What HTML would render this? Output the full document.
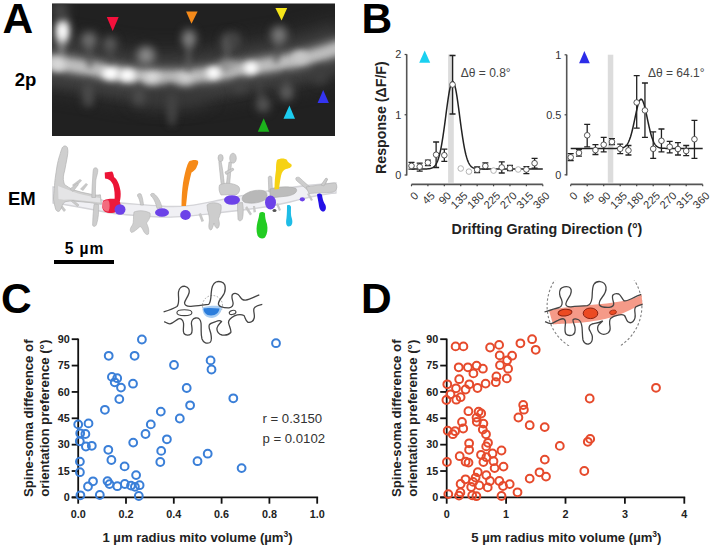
<!DOCTYPE html>
<html><head><meta charset="utf-8"><style>
html,body{margin:0;padding:0;background:#fff;}
svg{display:block;}
text{font-family:"Liberation Sans", sans-serif;}
</style></head><body>
<svg width="712" height="547" viewBox="0 0 712 547" font-family='"Liberation Sans", sans-serif'>
<rect width="712" height="547" fill="#fff"/>
<text x="2.6" y="32.9" font-size="42.5" font-weight="bold">A</text>
<text x="361.6" y="32.6" font-size="42.5" font-weight="bold">B</text>
<text x="1.0" y="312.8" font-size="42.5" font-weight="bold">C</text>
<text x="361.1" y="312.9" font-size="42.5" font-weight="bold">D</text>
<defs><clipPath id="c2p"><rect x="52" y="3.5" width="283" height="132.5"/></clipPath><clipPath id="cD"><rect x="530" y="280.5" width="130" height="65.5"/></clipPath><filter id="bl8" filterUnits="userSpaceOnUse" x="0" y="0" width="712" height="547" color-interpolation-filters="sRGB"><feGaussianBlur stdDeviation="8"/></filter><filter id="bl6" filterUnits="userSpaceOnUse" x="0" y="0" width="712" height="547" color-interpolation-filters="sRGB"><feGaussianBlur stdDeviation="5.5"/></filter><filter id="bl4" filterUnits="userSpaceOnUse" x="0" y="0" width="712" height="547" color-interpolation-filters="sRGB"><feGaussianBlur stdDeviation="4"/></filter><filter id="bl3" filterUnits="userSpaceOnUse" x="0" y="0" width="712" height="547" color-interpolation-filters="sRGB"><feGaussianBlur stdDeviation="3"/></filter><filter id="bl2" filterUnits="userSpaceOnUse" x="0" y="0" width="712" height="547" color-interpolation-filters="sRGB"><feGaussianBlur stdDeviation="2.2"/></filter><filter id="bl1" filterUnits="userSpaceOnUse" x="0" y="0" width="712" height="547" color-interpolation-filters="sRGB"><feGaussianBlur stdDeviation="0.6"/></filter></defs>
<rect x="52" y="3.5" width="283" height="132.5" fill="#212121"/>
<g clip-path="url(#c2p)">
<path d="M40,62 C70,63 95,70 125,75 C160,80 195,78 230,71 C260,66 290,62 310,57 C325,53 335,49 345,46" stroke="#303030" stroke-width="60" fill="none" filter="url(#bl8)"/>
<path d="M40,62 C70,63 95,70 125,75 C160,80 195,78 230,71 C260,66 290,62 310,57 C325,53 335,49 345,46" stroke="#4c4c4c" stroke-width="30" fill="none" filter="url(#bl8)"/>
<path d="M40,62 C70,63 95,70 125,75 C160,80 195,78 230,71 C260,66 290,62 310,57 C325,53 335,49 345,46" transform="translate(0,11)" stroke="#3e3e3e" stroke-width="18" fill="none" filter="url(#bl6)"/>
<path d="M40,62 C70,63 95,70 125,75 C160,80 195,78 230,71 C260,66 290,62 310,57 C325,53 335,49 345,46" stroke="#a8a8a8" stroke-width="16" fill="none" filter="url(#bl4)"/>
<path d="M40,62 C70,63 95,70 125,75 C160,80 195,78 230,71 C260,66 290,62 310,57 C325,53 335,49 345,46" stroke="#c4c4c4" stroke-width="7" fill="none" filter="url(#bl3)"/>
<path d="M62,35 L61,62" stroke="#8a8a8a" stroke-width="5" fill="none" filter="url(#bl3)"/>
<path d="M89,42 L90,68" stroke="#555555" stroke-width="4" fill="none" filter="url(#bl3)"/>
<path d="M110,46 L111,70" stroke="#4a4a4a" stroke-width="4" fill="none" filter="url(#bl3)"/>
<path d="M189,40 L188,74" stroke="#5e5e5e" stroke-width="4" fill="none" filter="url(#bl3)"/>
<path d="M228,44 L225,70" stroke="#606060" stroke-width="4" fill="none" filter="url(#bl3)"/>
<path d="M279,38 L276,63" stroke="#4e4e4e" stroke-width="4" fill="none" filter="url(#bl3)"/>
<path d="M89,80 L90,105" stroke="#444444" stroke-width="4" fill="none" filter="url(#bl3)"/>
<path d="M171,85 L172,125" stroke="#444444" stroke-width="4" fill="none" filter="url(#bl3)"/>
<path d="M258,78 L263,108" stroke="#444444" stroke-width="4" fill="none" filter="url(#bl3)"/>
<path d="M286,72 L287,96" stroke="#444444" stroke-width="4" fill="none" filter="url(#bl3)"/>
<path d="M140,82 L139,100" stroke="#444444" stroke-width="4" fill="none" filter="url(#bl3)"/>
<ellipse cx="62.5" cy="31" rx="7" ry="13" fill="#e0e0e0" filter="url(#bl4)"/>
<ellipse cx="62.5" cy="31" rx="4" ry="8" fill="#ffffff" filter="url(#bl3)"/>
<ellipse cx="60" cy="10" rx="8" ry="8" fill="#505050" filter="url(#bl6)"/>
<ellipse cx="89" cy="40" rx="8" ry="8" fill="#707070" filter="url(#bl4)"/>
<ellipse cx="110" cy="43.7" rx="7" ry="7" fill="#5e5e5e" filter="url(#bl4)"/>
<ellipse cx="146" cy="55.5" rx="9" ry="9" fill="#8a8a8a" filter="url(#bl4)"/>
<ellipse cx="189" cy="38.5" rx="7" ry="9" fill="#858585" filter="url(#bl4)"/>
<ellipse cx="228" cy="42" rx="7" ry="9" fill="#585858" filter="url(#bl4)"/>
<ellipse cx="279" cy="35" rx="8" ry="9" fill="#7a7a7a" filter="url(#bl4)"/>
<ellipse cx="58" cy="64" rx="8" ry="7" fill="#d8d8d8" filter="url(#bl3)"/>
<ellipse cx="110.5" cy="73.3" rx="8.5" ry="6.5" fill="#ffffff" filter="url(#bl3)"/>
<ellipse cx="127.4" cy="75.3" rx="8" ry="6" fill="#ffffff" filter="url(#bl3)"/>
<ellipse cx="152.5" cy="79.3" rx="8" ry="6" fill="#f0f0f0" filter="url(#bl4)"/>
<ellipse cx="185" cy="80.5" rx="8" ry="6" fill="#e8e8e8" filter="url(#bl4)"/>
<ellipse cx="228" cy="66" rx="9" ry="5" fill="#a0a0a0" filter="url(#bl4)"/>
<ellipse cx="170" cy="98" rx="40" ry="10" fill="#383838" filter="url(#bl8)"/>
<ellipse cx="213.5" cy="72.9" rx="7" ry="6" fill="#ffffff" filter="url(#bl3)"/>
<ellipse cx="251" cy="68" rx="7" ry="6" fill="#ffffff" filter="url(#bl3)"/>
<ellipse cx="300" cy="57" rx="8" ry="6" fill="#c8c8c8" filter="url(#bl3)"/>
<ellipse cx="87.5" cy="95" rx="5" ry="12" fill="#4e4e4e" filter="url(#bl4)"/>
<ellipse cx="139" cy="96.7" rx="6" ry="9" fill="#4e4e4e" filter="url(#bl4)"/>
<ellipse cx="172" cy="108" rx="4" ry="16" fill="#484848" filter="url(#bl4)"/>
<ellipse cx="286.5" cy="92.5" rx="7" ry="8" fill="#5e5e5e" filter="url(#bl4)"/>
<ellipse cx="263.2" cy="104.7" rx="7" ry="8" fill="#555555" filter="url(#bl4)"/>
<ellipse cx="240" cy="86" rx="6" ry="7" fill="#454545" filter="url(#bl4)"/>
<ellipse cx="235" cy="40" rx="6" ry="8" fill="#454545" filter="url(#bl4)"/>
<ellipse cx="320" cy="75" rx="8" ry="10" fill="#3e3e3e" filter="url(#bl4)"/>
</g>
<polygon points="106.8,17 118.7,17 112.7,31.1" fill="#f5103c"/>
<polygon points="186.1,11.6 197.6,11.6 191.5,23.8" fill="#f58a1a"/>
<polygon points="275.4,7.9 287.2,7.9 281.6,20.6" fill="#f5e51a"/>
<polygon points="263.7,118.2 257.8,131.7 269.3,131.7" fill="#1cb21c"/>
<polygon points="289.4,105.5 283.5,118.7 295,118.7" fill="#1ccdf0"/>
<polygon points="323.2,90 317.6,103 328.9,103" fill="#3434f0"/>
<text x="14.7" y="85.7" font-size="18.5" font-weight="bold">2p</text>
<text x="8" y="204.9" font-size="18.5" font-weight="bold">EM</text>
<text x="64.8" y="253.6" font-size="15.6" font-weight="bold" letter-spacing="0.9">5 µm</text>
<rect x="54" y="260" width="60" height="4" fill="#000"/>
<g filter="url(#bl1)">
<path d="M53,187 C70,189 90,196 105,201 C120,204 140,204 160,206 C185,208 200,204 220,200 C240,196 260,192 280,189 C300,186 320,184 336,183 L336,193 C320,194 305,198 290,202 C270,207 245,210 225,212 C200,215 180,218 160,217 C140,216 120,215 105,212 C85,208 68,205 53,203 Z" fill="#f0f0f4" stroke="#d4d4d8" stroke-width="1.3"/>
<path d="M72,185 L80,179 L82,180.5 L75,188 Z" fill="#c8c8c8"/>
<path d="M80,189 L86,183 L88,184.5 L83,191 Z" fill="#c8c8c8"/>
<path d="M62,205 L66,210 L64,212 L60,207 Z" fill="#c8c8c8"/>
<path d="M201,213 L204,221 L201.5,222 L198.5,214 Z" fill="#c8c8c8"/>
<path d="M247,206 L252,214 L250,215.5 L245,208 Z" fill="#c8c8c8"/>
<path d="M255,206 L256,212 L253.5,212.5 L253,206 Z" fill="#c8c8c8"/>
<path d="M278,203 L281,210 L279,211 L276,204 Z" fill="#c8c8c8"/>
<path d="M309,193 L313,200 L311,201 L307,194 Z" fill="#c8c8c8"/>
<path d="M322,184 L326,178 L328,179 L325,186 Z" fill="#c8c8c8"/>
<path d="M62.2,147.8 C63.5,145.5 66,145.2 67.4,147.5 C68.5,151 67.5,156 66.5,161 C65.5,166 65,170 63.8,174 C63,178 63.2,181 64.5,184.5 C67,186.5 70,188 72.6,189.6 C78,191.5 84,193 90,194 C94,195 97,195.5 100.4,194.8 L101.5,204.3 C97,204 93,203 90,202.6 C84,202 78,201.5 72.6,200.9 C68,201 65,201.5 63.9,202.6 C62.5,204.5 61.8,206.5 61.3,207.8 C60.5,210 59.5,211.5 58.2,211.5 C56.5,211 56,210 55.6,209 C54.5,205 53.8,202 53.5,199.1 C53.6,195 54,191.5 54.3,188.7 C54.6,184 54.8,181 55.2,178.3 C55.8,174 56.4,170 57,166.1 C57.8,162 58.6,158.5 59.6,155.7 C60.5,152.5 61.3,150 62.2,147.8 Z" fill="#cfcfcf" stroke="#b2b2b2" stroke-width="0.7"/>
<path d="M58,186 C64,188 70,191 78,193.5 C86,195.5 94,197 100,198 L100.5,202.5 C92,201.5 82,200.5 72,199.5 C66,199.5 61,200 58.5,199 Z" fill="#e4e4e6"/>
<path d="M70,189 L76.5,183.5 C77.8,183 78.6,184 78,185.2 L73,191.5 Z" fill="#cacaca" stroke="#b2b2b2" stroke-width="0.5"/>
<path d="M73,200 L79,205 L77.5,206.5 L71.5,201.5 Z" fill="#cacaca" stroke="#b2b2b2" stroke-width="0.5"/>
<path d="M93.8,168.5 C95,167.3 97.5,167.5 97.8,170 C98,173 96.5,176 95.8,180 C95.3,186 95.5,192 95.5,197.5 L91.8,197.5 C91.8,190 92.3,183 92.8,176 C93,172.5 93,170 93.8,168.5 Z" fill="#cdcdcd" stroke="#b2b2b2" stroke-width="0.6"/>
<path d="M94,204.5 L98.5,204.5 C99,211 98.5,218 96.5,224.5 C95.5,227 93,227 92.6,225 C92.8,218 93.2,211 94,204.5 Z" fill="#cdcdcd" stroke="#b2b2b2" stroke-width="0.6"/>
<path d="M141,194 C139,193 137,194 137.5,196 C139,198 140,201 140.5,205 L143.5,205 C143,201 142.5,197 141,194 Z" fill="#cdcdcd" stroke="#b4b4b4" stroke-width="0.6"/>
<path d="M150.5,194.5 C151.5,192.8 154,193 155.5,195 C158,197.5 160.5,201 162,207.5 L157,208.5 C156,204 154.5,200 152.5,197.5 C151.5,196.8 150.7,195.8 150.5,194.5 Z" fill="#cdcdcd" stroke="#b4b4b4" stroke-width="0.6"/>
<path d="M134,212 C139,210 145,210.5 150,213 C151,216 149,220 146.5,223 C148,226.5 149.5,230 148.5,234 C147,235.5 145,234 143.5,231 C142,228 141,226 139.5,227 C137,229 134.5,232 131.5,232.5 C129.5,231 130,228 132.5,225 C134,222 133,217 134,212 Z" fill="#cfcfcf" stroke="#b4b4b4" stroke-width="0.6"/>
<path d="M221,161 C222.5,168 223.5,176 224.5,186 L221.5,187 C220.5,178 219.5,169 218.8,161.5 Z" fill="#cdcdcd" stroke="#b0b0b0" stroke-width="0.6"/>
<ellipse cx="220.6" cy="158" rx="2.6" ry="3.6" fill="#cdcdcd" stroke="#b0b0b0" stroke-width="0.6"/>
<path d="M231.5,162 C231,170 230,178 229.5,187 L226.2,186.5 C227,178 228,170 229,162 Z" fill="#cdcdcd" stroke="#b0b0b0" stroke-width="0.6"/>
<ellipse cx="233" cy="158.2" rx="3.3" ry="5" fill="#cdcdcd" stroke="#b0b0b0" stroke-width="0.6"/>
<path d="M225,172 L233,168 L233.8,170 L226,174.5 Z" fill="#cdcdcd" stroke="#b0b0b0" stroke-width="0.6"/>
<path d="M219.5,185 C224,182.5 232,182.5 238,186 C240.5,188 240,192 237,194.5 L221,195 C219,192 218.5,188 219.5,185 Z" fill="#cdcdcd" stroke="#b0b0b0" stroke-width="0.6"/>
<path d="M207,205 C210,202 217,202 221,205 C222,210 220,215 218.5,219 C219.5,222 220,226 218,228 C216,229 214.5,226 214,223 C213,226 212.5,229 211,230 C209,230 208.5,227 209,224 C210,220 209,214 207.5,210 Z" fill="#cdcdcd" stroke="#b0b0b0" stroke-width="0.6"/>
<path d="M237.5,203 L242.5,202.5 C243.5,208 243.5,214 242.5,218.5 C241.5,221.5 238.5,221.5 238,219 C237.8,214 237.5,208 237.5,203 Z" fill="#cdcdcd" stroke="#b0b0b0" stroke-width="0.6"/>
<path d="M243,196 C248,191 256,189.5 263,190.5 C267,191.5 268,195 266,199 C261,203 252,204 245,202.5 C242,201 241.5,198.5 243,196 Z" fill="#b8b8b8" stroke="#a8a8a8" stroke-width="0.6"/>
<path d="M268.3,177.5 C268.6,175.8 271.3,175.5 271.8,177.5 L272.5,192 L268.8,192 Z" fill="#cdcdcd" stroke="#b0b0b0" stroke-width="0.6"/>
<path d="M270,189 C278,186.5 290,186 296,188.5 C298,191 295.5,194.5 288,196 L270,198 Z" fill="#bcbcbc" stroke="#a8a8a8" stroke-width="0.6"/>
<path d="M296,177.8 C297.5,176.6 299.5,177.2 300.5,178.5 C303.5,181.5 306.5,184 310.5,187.5 L307.5,190 C304,187 300.5,184 297,181 C295.8,180 295.5,178.8 296,177.8 Z" fill="#cdcdcd" stroke="#b0b0b0" stroke-width="0.6"/>
<path d="M306,187 C315,185.5 325,184.2 333,183 C335.5,182.5 337,184 336.8,187.5 C336.5,190 335,192 332,192.3 C325,192.6 316,193 309,193.5 Z" fill="#cdcdcd" stroke="#b0b0b0" stroke-width="0.6"/>
<path d="M321,185 L325.5,178.5 C326.5,177.8 327.8,178.5 327.3,179.8 L324,186 Z" fill="#cdcdcd" stroke="#b0b0b0" stroke-width="0.6"/>
<path d="M104.7,172.5 L112,171.5 C113,172 113.8,175 114,177 C117,179 119.5,184 120.5,191 C121,195 120.5,199 119.8,201.5 L114.5,201.5 C115,195 114.5,189 113,184.5 C111.5,181.5 109.5,179.5 107.5,179 L105,178.5 Z" fill="#ec1436"/>
<path d="M102.8,201.5 C104.5,199 109,198.8 113,198.8 C117.5,198.5 120.5,200.5 120.5,204.5 C120.5,208.5 118,212.5 112,213 C106.5,213.3 103,211.5 102.3,207.5 Z" fill="#ec1a3c"/>
<path d="M102.5,203 C103.5,200.5 106,200 108.5,200.5 C110,203 110,208 108.5,211.5 C105.5,211.5 103,210 102.5,207 Z" fill="#f26c7e"/>
<path d="M189,161.5 C192,159.5 196.5,159.5 198,161 C199,163.5 197,165.5 196.5,167.5 C195.5,170 193,171.5 191.5,172.5 C190,178 188.5,185 187.5,192 C187,197 186.5,201 186,206 L181.5,206 C181.5,198 182,190 183,183 C184,177 185.5,170 187.5,164.5 Z" fill="#f68a18"/>
<path d="M277,160 C280,158 285,158 287,160 C288,163 290,163 291.5,164.5 C292.5,166.5 290,168.5 286,169 C283,170 282,172 281,176 C280,181 279.5,185 279,189 L274.5,189.5 C274.5,183 275,176 276,170 C276,166 276,163 277,160 Z" fill="#f6d214"/>
<path d="M259.5,213 C261,211.5 264,211.5 265,213.5 C265,217 265.5,220 267,224 C268,229 267.5,234 265,237.5 C262.5,239.5 259,238.5 257.5,235.5 C256,231 256.5,226 257.5,222 C258.5,219 259,216 259.5,213 Z" fill="#22cc22"/>
<path d="M287,205.5 C288.5,204.5 290.5,205 291,207 C291,211 290.5,215 292,219 C293,223 292,226.5 288.5,226.5 C285.8,226 285.8,222 286.5,218 C287,214 287,209 287,205.5 Z" fill="#1ebce6"/>
<path d="M317,194.5 C318.5,193 321,193 322,195 C322.5,198 323,201 324.5,203.5 C326.5,206 326.5,210 324,211.5 C321,212 319.5,209 319,206 C318.5,202 317.5,198 317,194.5 Z" fill="#2410e6"/>
<ellipse cx="120" cy="209.5" rx="5.5" ry="5.2" fill="#6c42e8"/>
<ellipse cx="162" cy="212.5" rx="7" ry="4.3" fill="#6c42e8"/>
<ellipse cx="185.5" cy="215" rx="5.3" ry="5" fill="#6c42e8"/>
<ellipse cx="232" cy="200" rx="8" ry="4.8" fill="#6c42e8"/>
<ellipse cx="270.5" cy="202.5" rx="5.5" ry="7" fill="#6c42e8"/>
<ellipse cx="302.3" cy="199.3" rx="2.6" ry="2.1" fill="#6c42e8"/>
<ellipse cx="274.5" cy="210.5" rx="2" ry="1.5" fill="#555"/>
</g>
<rect x="448.1" y="54.5" width="5.7" height="128.3" fill="#dcdcdc"/>
<line x1="406.7" y1="54.3" x2="406.7" y2="175.5" stroke="#555" stroke-width="1.6"/>
<line x1="404.6" y1="175.0" x2="406.7" y2="175.0" stroke="#444" stroke-width="1.2"/>
<text x="401.3" y="178.9" font-size="10.9" fill="#333" text-anchor="end">0</text>
<line x1="404.6" y1="114.75" x2="406.7" y2="114.75" stroke="#444" stroke-width="1.2"/>
<text x="401.3" y="118.65" font-size="10.9" fill="#333" text-anchor="end">1</text>
<line x1="404.6" y1="54.5" x2="406.7" y2="54.5" stroke="#444" stroke-width="1.2"/>
<text x="401.3" y="58.4" font-size="10.9" fill="#333" text-anchor="end">2</text>
<line x1="411.5" y1="184.4" x2="542.8" y2="184.4" stroke="#555" stroke-width="1.7"/>
<line x1="411.5" y1="184.4" x2="411.5" y2="186.3" stroke="#444" stroke-width="1.2"/>
<text transform="translate(419.1,196.4) rotate(-45)" font-size="11" fill="#333" text-anchor="end">0</text>
<line x1="427.9125" y1="184.4" x2="427.9125" y2="186.3" stroke="#444" stroke-width="1.2"/>
<text transform="translate(435.51250000000005,196.4) rotate(-45)" font-size="11" fill="#333" text-anchor="end">45</text>
<line x1="444.325" y1="184.4" x2="444.325" y2="186.3" stroke="#444" stroke-width="1.2"/>
<text transform="translate(451.925,196.4) rotate(-45)" font-size="11" fill="#333" text-anchor="end">90</text>
<line x1="460.7375" y1="184.4" x2="460.7375" y2="186.3" stroke="#444" stroke-width="1.2"/>
<text transform="translate(468.33750000000003,196.4) rotate(-45)" font-size="11" fill="#333" text-anchor="end">135</text>
<line x1="477.15" y1="184.4" x2="477.15" y2="186.3" stroke="#444" stroke-width="1.2"/>
<text transform="translate(484.75,196.4) rotate(-45)" font-size="11" fill="#333" text-anchor="end">180</text>
<line x1="493.5625" y1="184.4" x2="493.5625" y2="186.3" stroke="#444" stroke-width="1.2"/>
<text transform="translate(501.1625,196.4) rotate(-45)" font-size="11" fill="#333" text-anchor="end">225</text>
<line x1="509.975" y1="184.4" x2="509.975" y2="186.3" stroke="#444" stroke-width="1.2"/>
<text transform="translate(517.575,196.4) rotate(-45)" font-size="11" fill="#333" text-anchor="end">270</text>
<line x1="526.3875" y1="184.4" x2="526.3875" y2="186.3" stroke="#444" stroke-width="1.2"/>
<text transform="translate(533.9875000000001,196.4) rotate(-45)" font-size="11" fill="#333" text-anchor="end">315</text>
<line x1="542.8" y1="184.4" x2="542.8" y2="186.3" stroke="#444" stroke-width="1.2"/>
<text transform="translate(550.4,196.4) rotate(-45)" font-size="11" fill="#333" text-anchor="end">360</text>
<polyline points="411.50,168.97 411.86,168.97 412.23,168.97 412.59,168.97 412.96,168.97 413.32,168.97 413.69,168.97 414.05,168.97 414.42,168.97 414.78,168.97 415.15,168.97 415.51,168.97 415.88,168.97 416.24,168.97 416.61,168.97 416.97,168.97 417.34,168.97 417.70,168.97 418.06,168.97 418.43,168.97 418.79,168.97 419.16,168.97 419.52,168.97 419.89,168.97 420.25,168.97 420.62,168.97 420.98,168.97 421.35,168.97 421.71,168.97 422.08,168.97 422.44,168.97 422.81,168.97 423.17,168.97 423.54,168.96 423.90,168.96 424.27,168.96 424.63,168.95 424.99,168.95 425.36,168.94 425.72,168.93 426.09,168.92 426.45,168.91 426.82,168.89 427.18,168.88 427.55,168.86 427.91,168.83 428.28,168.80 428.64,168.77 429.01,168.72 429.37,168.67 429.74,168.62 430.10,168.55 430.47,168.47 430.83,168.38 431.19,168.27 431.56,168.15 431.92,168.00 432.29,167.84 432.65,167.65 433.02,167.44 433.38,167.19 433.75,166.91 434.11,166.59 434.48,166.24 434.84,165.83 435.21,165.38 435.57,164.88 435.94,164.31 436.30,163.69 436.67,162.99 437.03,162.23 437.40,161.38 437.76,160.46 438.12,159.45 438.49,158.35 438.85,157.15 439.22,155.86 439.58,154.46 439.95,152.96 440.31,151.36 440.68,149.64 441.04,147.82 441.41,145.89 441.77,143.86 442.14,141.72 442.50,139.48 442.87,137.15 443.23,134.72 443.60,132.21 443.96,129.63 444.32,126.99 444.69,124.29 445.05,121.54 445.42,118.77 445.78,115.99 446.15,113.20 446.51,110.43 446.88,107.69 447.24,105.00 447.61,102.38 447.97,99.84 448.34,97.41 448.70,95.09 449.07,92.91 449.43,90.88 449.80,89.02 450.16,87.34 450.53,85.86 450.89,84.59 451.25,83.53 451.62,82.69 451.98,82.10 452.35,81.73 452.71,81.61 453.08,81.73 453.44,82.10 453.81,82.69 454.17,83.53 454.54,84.59 454.90,85.86 455.27,87.34 455.63,89.02 456.00,90.88 456.36,92.91 456.73,95.09 457.09,97.41 457.45,99.84 457.82,102.38 458.18,105.00 458.55,107.69 458.91,110.43 459.28,113.20 459.64,115.99 460.01,118.77 460.37,121.54 460.74,124.29 461.10,126.99 461.47,129.63 461.83,132.21 462.20,134.72 462.56,137.15 462.93,139.48 463.29,141.72 463.66,143.86 464.02,145.89 464.38,147.82 464.75,149.64 465.11,151.36 465.48,152.96 465.84,154.46 466.21,155.86 466.57,157.15 466.94,158.35 467.30,159.45 467.67,160.46 468.03,161.38 468.40,162.23 468.76,162.99 469.13,163.69 469.49,164.31 469.86,164.88 470.22,165.38 470.59,165.83 470.95,166.24 471.31,166.59 471.68,166.91 472.04,167.19 472.41,167.44 472.77,167.65 473.14,167.84 473.50,168.00 473.87,168.15 474.23,168.27 474.60,168.38 474.96,168.47 475.33,168.55 475.69,168.62 476.06,168.67 476.42,168.72 476.79,168.77 477.15,168.80 477.51,168.83 477.88,168.86 478.24,168.88 478.61,168.89 478.97,168.91 479.34,168.92 479.70,168.93 480.07,168.94 480.43,168.95 480.80,168.95 481.16,168.96 481.53,168.96 481.89,168.96 482.26,168.97 482.62,168.97 482.99,168.97 483.35,168.97 483.72,168.97 484.08,168.97 484.44,168.97 484.81,168.97 485.17,168.97 485.54,168.97 485.90,168.97 486.27,168.97 486.63,168.97 487.00,168.97 487.36,168.97 487.73,168.97 488.09,168.97 488.46,168.97 488.82,168.97 489.19,168.97 489.55,168.97 489.92,168.97 490.28,168.97 490.64,168.97 491.01,168.97 491.37,168.97 491.74,168.97 492.10,168.97 492.47,168.97 492.83,168.97 493.20,168.97 493.56,168.97 493.93,168.97 494.29,168.97 494.66,168.97 495.02,168.97 495.39,168.97 495.75,168.97 496.12,168.97 496.48,168.97 496.85,168.97 497.21,168.97 497.57,168.97 497.94,168.97 498.30,168.97 498.67,168.97 499.03,168.97 499.40,168.97 499.76,168.97 500.13,168.97 500.49,168.97 500.86,168.97 501.22,168.97 501.59,168.97 501.95,168.97 502.32,168.97 502.68,168.97 503.05,168.97 503.41,168.97 503.77,168.97 504.14,168.97 504.50,168.97 504.87,168.97 505.23,168.97 505.60,168.97 505.96,168.97 506.33,168.97 506.69,168.97 507.06,168.97 507.42,168.97 507.79,168.97 508.15,168.97 508.52,168.97 508.88,168.97 509.25,168.97 509.61,168.97 509.98,168.97 510.34,168.97 510.70,168.97 511.07,168.97 511.43,168.97 511.80,168.97 512.16,168.97 512.53,168.97 512.89,168.97 513.26,168.97 513.62,168.97 513.99,168.97 514.35,168.97 514.72,168.97 515.08,168.97 515.45,168.97 515.81,168.97 516.18,168.97 516.54,168.97 516.90,168.97 517.27,168.97 517.63,168.97 518.00,168.97 518.36,168.97 518.73,168.97 519.09,168.97 519.46,168.97 519.82,168.97 520.19,168.97 520.55,168.97 520.92,168.97 521.28,168.97 521.65,168.97 522.01,168.97 522.38,168.97 522.74,168.97 523.11,168.97 523.47,168.97 523.83,168.97 524.20,168.97 524.56,168.97 524.93,168.97 525.29,168.97 525.66,168.97 526.02,168.97 526.39,168.97 526.75,168.97 527.12,168.97 527.48,168.97 527.85,168.97 528.21,168.97 528.58,168.97 528.94,168.97 529.31,168.97 529.67,168.97 530.03,168.97 530.40,168.97 530.76,168.97 531.13,168.97 531.49,168.97 531.86,168.97 532.22,168.97 532.59,168.97 532.95,168.97 533.32,168.97 533.68,168.97 534.05,168.97 534.41,168.97 534.78,168.97 535.14,168.97 535.51,168.97 535.87,168.97 536.24,168.97 536.60,168.97 536.96,168.97 537.33,168.97 537.69,168.97 538.06,168.97 538.42,168.97 538.79,168.97 539.15,168.97 539.52,168.97 539.88,168.97 540.25,168.97 540.61,168.97 540.98,168.97 541.34,168.97 541.71,168.97 542.07,168.97 542.44,168.97 542.80,168.97" fill="none" stroke="#222" stroke-width="1.5"/>
<path d="M411.5,162.3 L411.5,169.2 M408.5,162.3 L414.5,162.3 M408.5,169.2 L414.5,169.2" stroke="#222" stroke-width="1.3" fill="none"/>
<circle cx="411.5" cy="165.9" r="2.8" fill="#fff" stroke="#444" stroke-width="0.9"/>
<path d="M419.70625,163.1 L419.70625,171.2 M416.70625,163.1 L422.70625,163.1 M416.70625,171.2 L422.70625,171.2" stroke="#222" stroke-width="1.3" fill="none"/>
<circle cx="419.70625" cy="166.7" r="2.8" fill="#fff" stroke="#444" stroke-width="0.9"/>
<path d="M427.9125,160.1 L427.9125,165.6 M424.9125,160.1 L430.9125,160.1 M424.9125,165.6 L430.9125,165.6" stroke="#222" stroke-width="1.3" fill="none"/>
<circle cx="427.9125" cy="162.6" r="2.8" fill="#fff" stroke="#444" stroke-width="0.9"/>
<path d="M436.11875,142 L436.11875,167.5 M433.11875,142 L439.11875,142 M433.11875,167.5 L439.11875,167.5" stroke="#222" stroke-width="1.3" fill="none"/>
<circle cx="436.11875" cy="154.7" r="2.8" fill="#fff" stroke="#444" stroke-width="0.9"/>
<path d="M444.325,149.1 L444.325,161.3 M441.325,149.1 L447.325,149.1 M441.325,161.3 L447.325,161.3" stroke="#222" stroke-width="1.3" fill="none"/>
<circle cx="444.325" cy="155.2" r="2.8" fill="#fff" stroke="#444" stroke-width="0.9"/>
<path d="M452.53125,55.5 L452.53125,114 M449.53125,55.5 L455.53125,55.5 M449.53125,114 L455.53125,114" stroke="#222" stroke-width="1.3" fill="none"/>
<circle cx="452.53125" cy="84.6" r="2.8" fill="#fff" stroke="#444" stroke-width="0.9"/>
<circle cx="460.7375" cy="168.5" r="2.8" fill="#fff" stroke="#aaa" stroke-width="0.9"/>
<circle cx="468.94375" cy="171.6" r="2.8" fill="#fff" stroke="#aaa" stroke-width="0.9"/>
<path d="M477.15,167 L477.15,172.5 M474.15,167 L480.15,167 M474.15,172.5 L480.15,172.5" stroke="#222" stroke-width="1.3" fill="none"/>
<circle cx="477.15" cy="169.8" r="2.8" fill="#fff" stroke="#444" stroke-width="0.9"/>
<path d="M485.35625000000005,162.8 L485.35625000000005,169.2 M482.35625000000005,162.8 L488.35625000000005,162.8 M482.35625000000005,169.2 L488.35625000000005,169.2" stroke="#222" stroke-width="1.3" fill="none"/>
<circle cx="485.35625000000005" cy="166" r="2.8" fill="#fff" stroke="#444" stroke-width="0.9"/>
<circle cx="493.5625" cy="170.6" r="2.8" fill="#fff" stroke="#aaa" stroke-width="0.9"/>
<path d="M501.76875,161.8 L501.76875,173 M498.76875,161.8 L504.76875,161.8 M498.76875,173 L504.76875,173" stroke="#222" stroke-width="1.3" fill="none"/>
<circle cx="501.76875" cy="167.4" r="2.8" fill="#fff" stroke="#444" stroke-width="0.9"/>
<path d="M509.975,165.5 L509.975,170.5 M506.975,165.5 L512.975,165.5 M506.975,170.5 L512.975,170.5" stroke="#222" stroke-width="1.3" fill="none"/>
<circle cx="509.975" cy="168.1" r="2.8" fill="#fff" stroke="#444" stroke-width="0.9"/>
<circle cx="518.18125" cy="169.5" r="2.8" fill="#fff" stroke="#aaa" stroke-width="0.9"/>
<path d="M526.3875,166.7 L526.3875,173.7 M523.3875,166.7 L529.3875,166.7 M523.3875,173.7 L529.3875,173.7" stroke="#222" stroke-width="1.3" fill="none"/>
<circle cx="526.3875" cy="169.5" r="2.8" fill="#fff" stroke="#444" stroke-width="0.9"/>
<path d="M534.59375,158.3 L534.59375,168.1 M531.59375,158.3 L537.59375,158.3 M531.59375,168.1 L537.59375,168.1" stroke="#222" stroke-width="1.3" fill="none"/>
<circle cx="534.59375" cy="163.2" r="2.8" fill="#fff" stroke="#444" stroke-width="0.9"/>
<text x="460.8" y="76.6" font-size="12" fill="#444">Δθ = 0.8°</text>
<polygon points="424.7,50.5 419.2,62.8 430.2,62.8" fill="#1ad0f0"/>
<rect x="607.8" y="54.7" width="5.5" height="128" fill="#dcdcdc"/>
<line x1="566.7" y1="54.7" x2="566.7" y2="175.5" stroke="#555" stroke-width="1.6"/>
<line x1="564.6" y1="174.8" x2="566.7" y2="174.8" stroke="#444" stroke-width="1.2"/>
<text x="561.3" y="178.70000000000002" font-size="10.9" fill="#333" text-anchor="end">0</text>
<line x1="564.6" y1="114.80000000000001" x2="566.7" y2="114.80000000000001" stroke="#444" stroke-width="1.2"/>
<text x="561.3" y="118.70000000000002" font-size="10.9" fill="#333" text-anchor="end">0.5</text>
<line x1="564.6" y1="54.80000000000001" x2="566.7" y2="54.80000000000001" stroke="#444" stroke-width="1.2"/>
<text x="561.3" y="58.70000000000001" font-size="10.9" fill="#333" text-anchor="end">1</text>
<line x1="570.7" y1="184.4" x2="702.7" y2="184.4" stroke="#555" stroke-width="1.7"/>
<line x1="570.7" y1="184.4" x2="570.7" y2="186.3" stroke="#444" stroke-width="1.2"/>
<text transform="translate(578.3000000000001,196.4) rotate(-45)" font-size="11" fill="#333" text-anchor="end">0</text>
<line x1="587.2" y1="184.4" x2="587.2" y2="186.3" stroke="#444" stroke-width="1.2"/>
<text transform="translate(594.8000000000001,196.4) rotate(-45)" font-size="11" fill="#333" text-anchor="end">45</text>
<line x1="603.7" y1="184.4" x2="603.7" y2="186.3" stroke="#444" stroke-width="1.2"/>
<text transform="translate(611.3000000000001,196.4) rotate(-45)" font-size="11" fill="#333" text-anchor="end">90</text>
<line x1="620.2" y1="184.4" x2="620.2" y2="186.3" stroke="#444" stroke-width="1.2"/>
<text transform="translate(627.8000000000001,196.4) rotate(-45)" font-size="11" fill="#333" text-anchor="end">135</text>
<line x1="636.7" y1="184.4" x2="636.7" y2="186.3" stroke="#444" stroke-width="1.2"/>
<text transform="translate(644.3000000000001,196.4) rotate(-45)" font-size="11" fill="#333" text-anchor="end">180</text>
<line x1="653.2" y1="184.4" x2="653.2" y2="186.3" stroke="#444" stroke-width="1.2"/>
<text transform="translate(660.8000000000001,196.4) rotate(-45)" font-size="11" fill="#333" text-anchor="end">225</text>
<line x1="669.7" y1="184.4" x2="669.7" y2="186.3" stroke="#444" stroke-width="1.2"/>
<text transform="translate(677.3000000000001,196.4) rotate(-45)" font-size="11" fill="#333" text-anchor="end">270</text>
<line x1="686.2" y1="184.4" x2="686.2" y2="186.3" stroke="#444" stroke-width="1.2"/>
<text transform="translate(693.8000000000001,196.4) rotate(-45)" font-size="11" fill="#333" text-anchor="end">315</text>
<line x1="702.7" y1="184.4" x2="702.7" y2="186.3" stroke="#444" stroke-width="1.2"/>
<text transform="translate(710.3000000000001,196.4) rotate(-45)" font-size="11" fill="#333" text-anchor="end">360</text>
<polyline points="570.70,148.40 571.07,148.40 571.43,148.40 571.80,148.40 572.17,148.40 572.53,148.40 572.90,148.40 573.27,148.40 573.63,148.40 574.00,148.40 574.37,148.40 574.73,148.40 575.10,148.40 575.47,148.40 575.83,148.40 576.20,148.40 576.57,148.40 576.93,148.40 577.30,148.40 577.67,148.40 578.03,148.40 578.40,148.40 578.77,148.40 579.13,148.40 579.50,148.40 579.87,148.40 580.23,148.40 580.60,148.40 580.97,148.40 581.33,148.40 581.70,148.40 582.07,148.40 582.43,148.40 582.80,148.40 583.17,148.40 583.53,148.40 583.90,148.40 584.27,148.40 584.63,148.40 585.00,148.40 585.37,148.40 585.73,148.40 586.10,148.40 586.47,148.40 586.83,148.40 587.20,148.40 587.57,148.40 587.93,148.40 588.30,148.40 588.67,148.40 589.03,148.40 589.40,148.40 589.77,148.40 590.13,148.40 590.50,148.40 590.87,148.40 591.23,148.40 591.60,148.40 591.97,148.40 592.33,148.40 592.70,148.40 593.07,148.40 593.43,148.40 593.80,148.40 594.17,148.40 594.53,148.40 594.90,148.40 595.27,148.40 595.63,148.40 596.00,148.40 596.37,148.40 596.73,148.40 597.10,148.40 597.47,148.40 597.83,148.40 598.20,148.40 598.57,148.40 598.93,148.40 599.30,148.40 599.67,148.40 600.03,148.40 600.40,148.40 600.77,148.40 601.13,148.40 601.50,148.40 601.87,148.40 602.23,148.40 602.60,148.40 602.97,148.40 603.33,148.40 603.70,148.40 604.07,148.40 604.43,148.40 604.80,148.40 605.17,148.40 605.53,148.40 605.90,148.40 606.27,148.40 606.63,148.40 607.00,148.40 607.37,148.40 607.73,148.40 608.10,148.40 608.47,148.40 608.83,148.40 609.20,148.40 609.57,148.40 609.93,148.40 610.30,148.40 610.67,148.40 611.03,148.40 611.40,148.40 611.77,148.40 612.13,148.40 612.50,148.40 612.87,148.40 613.23,148.40 613.60,148.40 613.97,148.40 614.33,148.40 614.70,148.39 615.07,148.39 615.43,148.39 615.80,148.39 616.17,148.38 616.53,148.38 616.90,148.37 617.27,148.37 617.63,148.36 618.00,148.35 618.37,148.34 618.73,148.32 619.10,148.30 619.47,148.28 619.83,148.25 620.20,148.22 620.57,148.18 620.93,148.14 621.30,148.08 621.67,148.02 622.03,147.94 622.40,147.85 622.77,147.75 623.13,147.63 623.50,147.49 623.87,147.32 624.23,147.14 624.60,146.92 624.97,146.67 625.33,146.39 625.70,146.07 626.07,145.72 626.43,145.31 626.80,144.86 627.17,144.35 627.53,143.79 627.90,143.17 628.27,142.49 628.63,141.74 629.00,140.92 629.37,140.03 629.73,139.07 630.10,138.03 630.47,136.92 630.83,135.73 631.20,134.46 631.57,133.12 631.93,131.71 632.30,130.24 632.67,128.70 633.03,127.10 633.40,125.46 633.77,123.77 634.13,122.05 634.50,120.31 634.87,118.56 635.23,116.81 635.60,115.06 635.97,113.35 636.33,111.67 636.70,110.05 637.07,108.49 637.43,107.02 637.80,105.63 638.17,104.36 638.53,103.20 638.90,102.17 639.27,101.28 639.63,100.54 640.00,99.96 640.37,99.54 640.73,99.29 641.10,99.20 641.47,99.29 641.83,99.54 642.20,99.96 642.57,100.54 642.93,101.28 643.30,102.17 643.67,103.20 644.03,104.36 644.40,105.63 644.77,107.02 645.13,108.49 645.50,110.05 645.87,111.67 646.23,113.35 646.60,115.06 646.97,116.81 647.33,118.56 647.70,120.31 648.07,122.05 648.43,123.77 648.80,125.46 649.17,127.10 649.53,128.70 649.90,130.24 650.27,131.71 650.63,133.12 651.00,134.46 651.37,135.73 651.73,136.92 652.10,138.03 652.47,139.07 652.83,140.03 653.20,140.92 653.57,141.74 653.93,142.49 654.30,143.17 654.67,143.79 655.03,144.35 655.40,144.86 655.77,145.31 656.13,145.72 656.50,146.07 656.87,146.39 657.23,146.67 657.60,146.92 657.97,147.14 658.33,147.32 658.70,147.49 659.07,147.63 659.43,147.75 659.80,147.85 660.17,147.94 660.53,148.02 660.90,148.08 661.27,148.14 661.63,148.18 662.00,148.22 662.37,148.25 662.73,148.28 663.10,148.30 663.47,148.32 663.83,148.34 664.20,148.35 664.57,148.36 664.93,148.37 665.30,148.37 665.67,148.38 666.03,148.38 666.40,148.39 666.77,148.39 667.13,148.39 667.50,148.39 667.87,148.40 668.23,148.40 668.60,148.40 668.97,148.40 669.33,148.40 669.70,148.40 670.07,148.40 670.43,148.40 670.80,148.40 671.17,148.40 671.53,148.40 671.90,148.40 672.27,148.40 672.63,148.40 673.00,148.40 673.37,148.40 673.73,148.40 674.10,148.40 674.47,148.40 674.83,148.40 675.20,148.40 675.57,148.40 675.93,148.40 676.30,148.40 676.67,148.40 677.03,148.40 677.40,148.40 677.77,148.40 678.13,148.40 678.50,148.40 678.87,148.40 679.23,148.40 679.60,148.40 679.97,148.40 680.33,148.40 680.70,148.40 681.07,148.40 681.43,148.40 681.80,148.40 682.17,148.40 682.53,148.40 682.90,148.40 683.27,148.40 683.63,148.40 684.00,148.40 684.37,148.40 684.73,148.40 685.10,148.40 685.47,148.40 685.83,148.40 686.20,148.40 686.57,148.40 686.93,148.40 687.30,148.40 687.67,148.40 688.03,148.40 688.40,148.40 688.77,148.40 689.13,148.40 689.50,148.40 689.87,148.40 690.23,148.40 690.60,148.40 690.97,148.40 691.33,148.40 691.70,148.40 692.07,148.40 692.43,148.40 692.80,148.40 693.17,148.40 693.53,148.40 693.90,148.40 694.27,148.40 694.63,148.40 695.00,148.40 695.37,148.40 695.73,148.40 696.10,148.40 696.47,148.40 696.83,148.40 697.20,148.40 697.57,148.40 697.93,148.40 698.30,148.40 698.67,148.40 699.03,148.40 699.40,148.40 699.77,148.40 700.13,148.40 700.50,148.40 700.87,148.40 701.23,148.40 701.60,148.40 701.97,148.40 702.33,148.40 702.70,148.40" fill="none" stroke="#222" stroke-width="1.5"/>
<path d="M570.7,153.7 L570.7,160.5 M567.7,153.7 L573.7,153.7 M567.7,160.5 L573.7,160.5" stroke="#222" stroke-width="1.3" fill="none"/>
<circle cx="570.7" cy="157.3" r="2.8" fill="#fff" stroke="#444" stroke-width="0.9"/>
<path d="M578.95,149.6 L578.95,156.2 M575.95,149.6 L581.95,149.6 M575.95,156.2 L581.95,156.2" stroke="#222" stroke-width="1.3" fill="none"/>
<circle cx="578.95" cy="152.9" r="2.8" fill="#fff" stroke="#444" stroke-width="0.9"/>
<path d="M587.2,124.4 L587.2,146.8 M584.2,124.4 L590.2,124.4 M584.2,146.8 L590.2,146.8" stroke="#222" stroke-width="1.3" fill="none"/>
<circle cx="587.2" cy="135.3" r="2.8" fill="#fff" stroke="#444" stroke-width="0.9"/>
<path d="M595.45,144.7 L595.45,154.5 M592.45,144.7 L598.45,144.7 M592.45,154.5 L598.45,154.5" stroke="#222" stroke-width="1.3" fill="none"/>
<circle cx="595.45" cy="150.1" r="2.8" fill="#fff" stroke="#444" stroke-width="0.9"/>
<path d="M603.7,137.3 L603.7,151.8 M600.7,137.3 L606.7,137.3 M600.7,151.8 L606.7,151.8" stroke="#222" stroke-width="1.3" fill="none"/>
<circle cx="603.7" cy="144.7" r="2.8" fill="#fff" stroke="#444" stroke-width="0.9"/>
<path d="M611.95,138.6 L611.95,144.7 M608.95,138.6 L614.95,138.6 M608.95,144.7 L614.95,144.7" stroke="#222" stroke-width="1.3" fill="none"/>
<circle cx="611.95" cy="141.9" r="2.8" fill="#fff" stroke="#444" stroke-width="0.9"/>
<path d="M620.2,144.1 L620.2,153.7 M617.2,144.1 L623.2,144.1 M617.2,153.7 L623.2,153.7" stroke="#222" stroke-width="1.3" fill="none"/>
<circle cx="620.2" cy="148.8" r="2.8" fill="#fff" stroke="#444" stroke-width="0.9"/>
<path d="M628.45,145.5 L628.45,155 M625.45,145.5 L631.45,145.5 M625.45,155 L631.45,155" stroke="#222" stroke-width="1.3" fill="none"/>
<circle cx="628.45" cy="150.4" r="2.8" fill="#fff" stroke="#444" stroke-width="0.9"/>
<path d="M636.7,75.6 L636.7,128.2 M633.7,75.6 L639.7,75.6 M633.7,128.2 L639.7,128.2" stroke="#222" stroke-width="1.3" fill="none"/>
<circle cx="636.7" cy="102.5" r="2.8" fill="#fff" stroke="#444" stroke-width="0.9"/>
<path d="M644.95,83 L644.95,137.3 M641.95,83 L647.95,83 M641.95,137.3 L647.95,137.3" stroke="#222" stroke-width="1.3" fill="none"/>
<circle cx="644.95" cy="110.4" r="2.8" fill="#fff" stroke="#444" stroke-width="0.9"/>
<path d="M653.2,131.8 L653.2,158.4 M650.2,131.8 L656.2,131.8 M650.2,158.4 L656.2,158.4" stroke="#222" stroke-width="1.3" fill="none"/>
<circle cx="653.2" cy="148.8" r="2.8" fill="#fff" stroke="#444" stroke-width="0.9"/>
<path d="M661.45,129 L661.45,151.8 M658.45,129 L664.45,129 M658.45,151.8 L664.45,151.8" stroke="#222" stroke-width="1.3" fill="none"/>
<circle cx="661.45" cy="140.8" r="2.8" fill="#fff" stroke="#444" stroke-width="0.9"/>
<path d="M669.7,141.4 L669.7,152.9 M666.7,141.4 L672.7,141.4 M666.7,152.9 L672.7,152.9" stroke="#222" stroke-width="1.3" fill="none"/>
<circle cx="669.7" cy="146.8" r="2.8" fill="#fff" stroke="#444" stroke-width="0.9"/>
<path d="M677.95,142.7 L677.95,155 M674.95,142.7 L680.95,142.7 M674.95,155 L680.95,155" stroke="#222" stroke-width="1.3" fill="none"/>
<circle cx="677.95" cy="149" r="2.8" fill="#fff" stroke="#444" stroke-width="0.9"/>
<path d="M686.2,145.5 L686.2,155.6 M683.2,145.5 L689.2,145.5 M683.2,155.6 L689.2,155.6" stroke="#222" stroke-width="1.3" fill="none"/>
<circle cx="686.2" cy="151" r="2.8" fill="#fff" stroke="#444" stroke-width="0.9"/>
<path d="M694.45,120.3 L694.45,158.4 M691.45,120.3 L697.45,120.3 M691.45,158.4 L697.45,158.4" stroke="#222" stroke-width="1.3" fill="none"/>
<circle cx="694.45" cy="139.2" r="2.8" fill="#fff" stroke="#444" stroke-width="0.9"/>
<text x="648" y="76.5" font-size="12" fill="#444">Δθ = 64.1°</text>
<polygon points="584.4,51 579.1,63.3 589.8,63.3" fill="#2c2ce8"/>
<text transform="translate(386.2,117.6) rotate(-90)" font-size="14.2" font-weight="bold" fill="#222" text-anchor="middle">Response (ΔF/F)</text>
<text x="547" y="234.1" font-size="14.3" font-weight="bold" fill="#222" text-anchor="middle">Drifting Grating Direction (°)</text>
<line x1="78.2" y1="338.6" x2="78.2" y2="498.29999999999995" stroke="#111" stroke-width="1.8"/>
<line x1="71.7" y1="497.4" x2="78.2" y2="497.4" stroke="#111" stroke-width="1.8"/>
<text x="69.7" y="501.09999999999997" font-size="10.8" font-weight="bold" fill="#222" text-anchor="end">0</text>
<line x1="71.7" y1="471.0333333333333" x2="78.2" y2="471.0333333333333" stroke="#111" stroke-width="1.8"/>
<text x="69.7" y="474.7333333333333" font-size="10.8" font-weight="bold" fill="#222" text-anchor="end">15</text>
<line x1="71.7" y1="444.66666666666663" x2="78.2" y2="444.66666666666663" stroke="#111" stroke-width="1.8"/>
<text x="69.7" y="448.3666666666666" font-size="10.8" font-weight="bold" fill="#222" text-anchor="end">30</text>
<line x1="71.7" y1="418.29999999999995" x2="78.2" y2="418.29999999999995" stroke="#111" stroke-width="1.8"/>
<text x="69.7" y="421.99999999999994" font-size="10.8" font-weight="bold" fill="#222" text-anchor="end">45</text>
<line x1="71.7" y1="391.93333333333334" x2="78.2" y2="391.93333333333334" stroke="#111" stroke-width="1.8"/>
<text x="69.7" y="395.6333333333333" font-size="10.8" font-weight="bold" fill="#222" text-anchor="end">60</text>
<line x1="71.7" y1="365.56666666666666" x2="78.2" y2="365.56666666666666" stroke="#111" stroke-width="1.8"/>
<text x="69.7" y="369.26666666666665" font-size="10.8" font-weight="bold" fill="#222" text-anchor="end">75</text>
<line x1="71.7" y1="339.2" x2="78.2" y2="339.2" stroke="#111" stroke-width="1.8"/>
<text x="69.7" y="342.9" font-size="10.8" font-weight="bold" fill="#222" text-anchor="end">90</text>
<line x1="71.7" y1="497.4" x2="318.09999999999997" y2="497.4" stroke="#111" stroke-width="1.8"/>
<line x1="78.2" y1="497.4" x2="78.2" y2="503.7" stroke="#111" stroke-width="1.8"/>
<text x="78.2" y="517.6999999999999" font-size="10.8" font-weight="bold" fill="#222" text-anchor="middle">0.0</text>
<line x1="126.0" y1="497.4" x2="126.0" y2="503.7" stroke="#111" stroke-width="1.8"/>
<text x="126.0" y="517.6999999999999" font-size="10.8" font-weight="bold" fill="#222" text-anchor="middle">0.2</text>
<line x1="173.8" y1="497.4" x2="173.8" y2="503.7" stroke="#111" stroke-width="1.8"/>
<text x="173.8" y="517.6999999999999" font-size="10.8" font-weight="bold" fill="#222" text-anchor="middle">0.4</text>
<line x1="221.60000000000002" y1="497.4" x2="221.60000000000002" y2="503.7" stroke="#111" stroke-width="1.8"/>
<text x="221.60000000000002" y="517.6999999999999" font-size="10.8" font-weight="bold" fill="#222" text-anchor="middle">0.6</text>
<line x1="269.40000000000003" y1="497.4" x2="269.40000000000003" y2="503.7" stroke="#111" stroke-width="1.8"/>
<text x="269.40000000000003" y="517.6999999999999" font-size="10.8" font-weight="bold" fill="#222" text-anchor="middle">0.8</text>
<line x1="317.2" y1="497.4" x2="317.2" y2="503.7" stroke="#111" stroke-width="1.8"/>
<text x="317.2" y="517.6999999999999" font-size="10.8" font-weight="bold" fill="#222" text-anchor="middle">1.0</text>
<text x="197.5" y="541.7" font-size="13.1" font-weight="bold" fill="#222" text-anchor="middle">1 µm radius mito volume (µm<tspan font-size="8.5" dy="-5">3</tspan><tspan dy="5">)</tspan></text>
<text transform="translate(32.7,418.2) rotate(-90)" font-size="13.2" font-weight="bold" fill="#222" text-anchor="middle"><tspan x="0" y="0">Spine-soma difference of</tspan><tspan x="0" y="16">orientation preference (°)</tspan></text>
<circle cx="141.9" cy="339.5" r="3.9" fill="none" stroke="#3a7fd8" stroke-width="2"/>
<circle cx="108.7" cy="355.8" r="3.9" fill="none" stroke="#3a7fd8" stroke-width="2"/>
<circle cx="134.6" cy="355.8" r="3.9" fill="none" stroke="#3a7fd8" stroke-width="2"/>
<circle cx="276" cy="343.2" r="3.9" fill="none" stroke="#3a7fd8" stroke-width="2"/>
<circle cx="174" cy="365" r="3.9" fill="none" stroke="#3a7fd8" stroke-width="2"/>
<circle cx="210.6" cy="360.4" r="3.9" fill="none" stroke="#3a7fd8" stroke-width="2"/>
<circle cx="211.5" cy="369.5" r="3.9" fill="none" stroke="#3a7fd8" stroke-width="2"/>
<circle cx="111.9" cy="376.9" r="3.9" fill="none" stroke="#3a7fd8" stroke-width="2"/>
<circle cx="117.2" cy="378.2" r="3.9" fill="none" stroke="#3a7fd8" stroke-width="2"/>
<circle cx="114.7" cy="382.3" r="3.9" fill="none" stroke="#3a7fd8" stroke-width="2"/>
<circle cx="121" cy="387.6" r="3.9" fill="none" stroke="#3a7fd8" stroke-width="2"/>
<circle cx="133" cy="383.7" r="3.9" fill="none" stroke="#3a7fd8" stroke-width="2"/>
<circle cx="186.7" cy="388" r="3.9" fill="none" stroke="#3a7fd8" stroke-width="2"/>
<circle cx="233.3" cy="398.3" r="3.9" fill="none" stroke="#3a7fd8" stroke-width="2"/>
<circle cx="119.3" cy="399.1" r="3.9" fill="none" stroke="#3a7fd8" stroke-width="2"/>
<circle cx="104.9" cy="409.8" r="3.9" fill="none" stroke="#3a7fd8" stroke-width="2"/>
<circle cx="160.8" cy="411.6" r="3.9" fill="none" stroke="#3a7fd8" stroke-width="2"/>
<circle cx="190.1" cy="405.3" r="3.9" fill="none" stroke="#3a7fd8" stroke-width="2"/>
<circle cx="179.8" cy="418.5" r="3.9" fill="none" stroke="#3a7fd8" stroke-width="2"/>
<circle cx="78.2" cy="424.4" r="3.9" fill="none" stroke="#3a7fd8" stroke-width="2"/>
<circle cx="88.5" cy="423.4" r="3.9" fill="none" stroke="#3a7fd8" stroke-width="2"/>
<circle cx="80.2" cy="433.3" r="3.9" fill="none" stroke="#3a7fd8" stroke-width="2"/>
<circle cx="85.4" cy="434" r="3.9" fill="none" stroke="#3a7fd8" stroke-width="2"/>
<circle cx="79.8" cy="441.3" r="3.9" fill="none" stroke="#3a7fd8" stroke-width="2"/>
<circle cx="85.9" cy="446.5" r="3.9" fill="none" stroke="#3a7fd8" stroke-width="2"/>
<circle cx="91.8" cy="445.8" r="3.9" fill="none" stroke="#3a7fd8" stroke-width="2"/>
<circle cx="108.3" cy="449.8" r="3.9" fill="none" stroke="#3a7fd8" stroke-width="2"/>
<circle cx="111.4" cy="460" r="3.9" fill="none" stroke="#3a7fd8" stroke-width="2"/>
<circle cx="79.9" cy="461.6" r="3.9" fill="none" stroke="#3a7fd8" stroke-width="2"/>
<circle cx="124.6" cy="466.4" r="3.9" fill="none" stroke="#3a7fd8" stroke-width="2"/>
<circle cx="79.9" cy="472.2" r="3.9" fill="none" stroke="#3a7fd8" stroke-width="2"/>
<circle cx="93" cy="481.3" r="3.9" fill="none" stroke="#3a7fd8" stroke-width="2"/>
<circle cx="88" cy="486.5" r="3.9" fill="none" stroke="#3a7fd8" stroke-width="2"/>
<circle cx="107.5" cy="481.1" r="3.9" fill="none" stroke="#3a7fd8" stroke-width="2"/>
<circle cx="109.5" cy="484.1" r="3.9" fill="none" stroke="#3a7fd8" stroke-width="2"/>
<circle cx="117.3" cy="486.2" r="3.9" fill="none" stroke="#3a7fd8" stroke-width="2"/>
<circle cx="124.8" cy="484" r="3.9" fill="none" stroke="#3a7fd8" stroke-width="2"/>
<circle cx="131" cy="485.6" r="3.9" fill="none" stroke="#3a7fd8" stroke-width="2"/>
<circle cx="134.9" cy="486.8" r="3.9" fill="none" stroke="#3a7fd8" stroke-width="2"/>
<circle cx="139.6" cy="485.2" r="3.9" fill="none" stroke="#3a7fd8" stroke-width="2"/>
<circle cx="136.1" cy="475.1" r="3.9" fill="none" stroke="#3a7fd8" stroke-width="2"/>
<circle cx="80.4" cy="495.3" r="3.9" fill="none" stroke="#3a7fd8" stroke-width="2"/>
<circle cx="99.8" cy="495" r="3.9" fill="none" stroke="#3a7fd8" stroke-width="2"/>
<circle cx="138.8" cy="496" r="3.9" fill="none" stroke="#3a7fd8" stroke-width="2"/>
<circle cx="133.2" cy="442.6" r="3.9" fill="none" stroke="#3a7fd8" stroke-width="2"/>
<circle cx="145.5" cy="434" r="3.9" fill="none" stroke="#3a7fd8" stroke-width="2"/>
<circle cx="150.8" cy="424.4" r="3.9" fill="none" stroke="#3a7fd8" stroke-width="2"/>
<circle cx="161.2" cy="450.9" r="3.9" fill="none" stroke="#3a7fd8" stroke-width="2"/>
<circle cx="160.3" cy="462" r="3.9" fill="none" stroke="#3a7fd8" stroke-width="2"/>
<circle cx="166.9" cy="439.3" r="3.9" fill="none" stroke="#3a7fd8" stroke-width="2"/>
<circle cx="197.5" cy="461.2" r="3.9" fill="none" stroke="#3a7fd8" stroke-width="2"/>
<circle cx="207.7" cy="453.7" r="3.9" fill="none" stroke="#3a7fd8" stroke-width="2"/>
<circle cx="241.6" cy="468.1" r="3.9" fill="none" stroke="#3a7fd8" stroke-width="2"/>
<text x="262.4" y="423.1" font-size="13.2" fill="#333">r = 0.3150</text>
<text x="262.4" y="442.7" font-size="13.2" fill="#333">p = 0.0102</text>
<circle cx="212.5" cy="305.5" r="10" fill="none" stroke="#999" stroke-width="0.9" stroke-dasharray="1.6,1.6"/>
<path d="M202.5,307.5 C206,306 214,305.5 222,306 C222,312 218,317.5 212,318 C206,318 202,314 202.5,307.5 Z" fill="#a8cdf3"/>
<path d="M203.5,308.5 C207,307.5 214,308 219.5,308.5 C219,312.5 216,315.5 211,315.5 C206,315.5 203.5,312 203.5,308.5 Z" fill="#2b7ddc"/>
<path d="M163.6,311.8 C168,310.5 173,309 177,306.5 C180,303 178,296 178.5,292 C179,288 182,286 185,286.3 C188.5,287 189.8,290 189,293 C188,297 185,300 184.5,303 C185,306 188,306.5 191,306.3 C196,306 203,305 208.7,304.4 C211,302 211,296 211.2,293.1 C211.5,288 213,283.5 216,282 C219.5,280.8 223.5,282 224.8,285 C226,290 224.5,294 222,297 C219.5,300 218,302 218.5,304.5 C219.5,307 224,308 229,307.9 C232,307.5 233.5,305.5 233,302.5 C232.5,299.5 231,296.5 232.5,294.5 C234.5,292.5 238,293.5 239.5,296 C241,298.5 242,300.5 245.6,300.2 C250,299.5 255,296.5 259.3,294.9" fill="none" stroke="#444" stroke-width="1.3"/>
<path d="M164.2,321.6 C166,322.5 168,324 170,323.8 C173,323.5 176,320 178.4,318.8 C181,317.8 183,320 183.5,323 C184,327 182.5,331 184,333.5 C185.5,335.5 189,335.5 191,334 C193,332 192,328 191.5,324.5 C191,321 193,318.5 195.6,318 C198.5,317.7 200.5,319.5 201,323 C201.5,328 200.5,334 202,339 C203.5,343 207,344 210,342.5 C212,341 211.5,337 210.8,333.5 C210,330 208,327 209.5,324.5 C211,322.5 214,322.5 216,321.5 C218,320.5 220.5,320.5 221.5,321.5 C220,323.5 217.5,325 217,328 C216.5,331.5 219,334.5 222,335 C225.5,335.5 229,334.5 230.8,332.5 C231.5,329.5 229,326 228.5,322.5 C228.5,319.5 231,317.5 234.4,315.8 C237.5,314.5 241.5,314.2 244,315.5 C245.5,318 245.5,321 248,322.3 C251,323 253.5,321 254.2,318 C255,314.5 253,311 254,308.5 C255.5,306 259,305 262.3,304.4" fill="none" stroke="#444" stroke-width="1.3"/>
<ellipse cx="184.4" cy="312.7" rx="7.5" ry="2.9" fill="none" stroke="#444" stroke-width="1.1"/>
<ellipse cx="232.6" cy="312.4" rx="3.4" ry="2" fill="none" stroke="#444" stroke-width="1.1" transform="rotate(-15 232.6 312.4)"/>
<line x1="446.7" y1="338.6" x2="446.7" y2="498.29999999999995" stroke="#111" stroke-width="1.8"/>
<line x1="440.2" y1="497.4" x2="446.7" y2="497.4" stroke="#111" stroke-width="1.8"/>
<text x="438.2" y="501.09999999999997" font-size="10.8" font-weight="bold" fill="#222" text-anchor="end">0</text>
<line x1="440.2" y1="471.0333333333333" x2="446.7" y2="471.0333333333333" stroke="#111" stroke-width="1.8"/>
<text x="438.2" y="474.7333333333333" font-size="10.8" font-weight="bold" fill="#222" text-anchor="end">15</text>
<line x1="440.2" y1="444.66666666666663" x2="446.7" y2="444.66666666666663" stroke="#111" stroke-width="1.8"/>
<text x="438.2" y="448.3666666666666" font-size="10.8" font-weight="bold" fill="#222" text-anchor="end">30</text>
<line x1="440.2" y1="418.29999999999995" x2="446.7" y2="418.29999999999995" stroke="#111" stroke-width="1.8"/>
<text x="438.2" y="421.99999999999994" font-size="10.8" font-weight="bold" fill="#222" text-anchor="end">45</text>
<line x1="440.2" y1="391.93333333333334" x2="446.7" y2="391.93333333333334" stroke="#111" stroke-width="1.8"/>
<text x="438.2" y="395.6333333333333" font-size="10.8" font-weight="bold" fill="#222" text-anchor="end">60</text>
<line x1="440.2" y1="365.56666666666666" x2="446.7" y2="365.56666666666666" stroke="#111" stroke-width="1.8"/>
<text x="438.2" y="369.26666666666665" font-size="10.8" font-weight="bold" fill="#222" text-anchor="end">75</text>
<line x1="440.2" y1="339.2" x2="446.7" y2="339.2" stroke="#111" stroke-width="1.8"/>
<text x="438.2" y="342.9" font-size="10.8" font-weight="bold" fill="#222" text-anchor="end">90</text>
<line x1="440.2" y1="497.4" x2="685.1999999999999" y2="497.4" stroke="#111" stroke-width="1.8"/>
<line x1="446.7" y1="497.4" x2="446.7" y2="503.7" stroke="#111" stroke-width="1.8"/>
<text x="446.7" y="517.6999999999999" font-size="10.8" font-weight="bold" fill="#222" text-anchor="middle">0</text>
<line x1="506.09999999999997" y1="497.4" x2="506.09999999999997" y2="503.7" stroke="#111" stroke-width="1.8"/>
<text x="506.09999999999997" y="517.6999999999999" font-size="10.8" font-weight="bold" fill="#222" text-anchor="middle">1</text>
<line x1="565.5" y1="497.4" x2="565.5" y2="503.7" stroke="#111" stroke-width="1.8"/>
<text x="565.5" y="517.6999999999999" font-size="10.8" font-weight="bold" fill="#222" text-anchor="middle">2</text>
<line x1="624.9" y1="497.4" x2="624.9" y2="503.7" stroke="#111" stroke-width="1.8"/>
<text x="624.9" y="517.6999999999999" font-size="10.8" font-weight="bold" fill="#222" text-anchor="middle">3</text>
<line x1="684.3" y1="497.4" x2="684.3" y2="503.7" stroke="#111" stroke-width="1.8"/>
<text x="684.3" y="517.6999999999999" font-size="10.8" font-weight="bold" fill="#222" text-anchor="middle">4</text>
<text x="566.4" y="541.7" font-size="13.1" font-weight="bold" fill="#222" text-anchor="middle">5 µm radius mito volume (µm<tspan font-size="8.5" dy="-5">3</tspan><tspan dy="5">)</tspan></text>
<text transform="translate(401.3,418.2) rotate(-90)" font-size="13.2" font-weight="bold" fill="#222" text-anchor="middle"><tspan x="0" y="0">Spine-soma difference of</tspan><tspan x="0" y="16">orientation preference (°)</tspan></text>
<circle cx="455.6" cy="346.4" r="3.9" fill="none" stroke="#e64a2c" stroke-width="2"/>
<circle cx="463.4" cy="346.4" r="3.9" fill="none" stroke="#e64a2c" stroke-width="2"/>
<circle cx="490.1" cy="347.5" r="3.9" fill="none" stroke="#e64a2c" stroke-width="2"/>
<circle cx="499.1" cy="344.9" r="3.9" fill="none" stroke="#e64a2c" stroke-width="2"/>
<circle cx="520.4" cy="343.3" r="3.9" fill="none" stroke="#e64a2c" stroke-width="2"/>
<circle cx="532.1" cy="339.2" r="3.9" fill="none" stroke="#e64a2c" stroke-width="2"/>
<circle cx="535.7" cy="349.8" r="3.9" fill="none" stroke="#e64a2c" stroke-width="2"/>
<circle cx="499.7" cy="355.4" r="3.9" fill="none" stroke="#e64a2c" stroke-width="2"/>
<circle cx="512.1" cy="355.7" r="3.9" fill="none" stroke="#e64a2c" stroke-width="2"/>
<circle cx="507.1" cy="360.3" r="3.9" fill="none" stroke="#e64a2c" stroke-width="2"/>
<circle cx="500" cy="365.2" r="3.9" fill="none" stroke="#e64a2c" stroke-width="2"/>
<circle cx="508.1" cy="368.7" r="3.9" fill="none" stroke="#e64a2c" stroke-width="2"/>
<circle cx="458.7" cy="367.3" r="3.9" fill="none" stroke="#e64a2c" stroke-width="2"/>
<circle cx="467.9" cy="367.3" r="3.9" fill="none" stroke="#e64a2c" stroke-width="2"/>
<circle cx="476.6" cy="365.6" r="3.9" fill="none" stroke="#e64a2c" stroke-width="2"/>
<circle cx="482.9" cy="368.7" r="3.9" fill="none" stroke="#e64a2c" stroke-width="2"/>
<circle cx="473.4" cy="373.4" r="3.9" fill="none" stroke="#e64a2c" stroke-width="2"/>
<circle cx="459.2" cy="379.2" r="3.9" fill="none" stroke="#e64a2c" stroke-width="2"/>
<circle cx="447.3" cy="384.3" r="3.9" fill="none" stroke="#e64a2c" stroke-width="2"/>
<circle cx="456" cy="388.3" r="3.9" fill="none" stroke="#e64a2c" stroke-width="2"/>
<circle cx="469.3" cy="384.3" r="3.9" fill="none" stroke="#e64a2c" stroke-width="2"/>
<circle cx="465.6" cy="389.5" r="3.9" fill="none" stroke="#e64a2c" stroke-width="2"/>
<circle cx="477.5" cy="388" r="3.9" fill="none" stroke="#e64a2c" stroke-width="2"/>
<circle cx="485.6" cy="383.6" r="3.9" fill="none" stroke="#e64a2c" stroke-width="2"/>
<circle cx="496.4" cy="376.5" r="3.9" fill="none" stroke="#e64a2c" stroke-width="2"/>
<circle cx="495.8" cy="382.2" r="3.9" fill="none" stroke="#e64a2c" stroke-width="2"/>
<circle cx="506.8" cy="378.4" r="3.9" fill="none" stroke="#e64a2c" stroke-width="2"/>
<circle cx="450.5" cy="394.3" r="3.9" fill="none" stroke="#e64a2c" stroke-width="2"/>
<circle cx="460.6" cy="397.2" r="3.9" fill="none" stroke="#e64a2c" stroke-width="2"/>
<circle cx="456.3" cy="399.7" r="3.9" fill="none" stroke="#e64a2c" stroke-width="2"/>
<circle cx="446.4" cy="400" r="3.9" fill="none" stroke="#e64a2c" stroke-width="2"/>
<circle cx="468.4" cy="411.2" r="3.9" fill="none" stroke="#e64a2c" stroke-width="2"/>
<circle cx="478.6" cy="411.7" r="3.9" fill="none" stroke="#e64a2c" stroke-width="2"/>
<circle cx="481.2" cy="413.5" r="3.9" fill="none" stroke="#e64a2c" stroke-width="2"/>
<circle cx="476.5" cy="417.6" r="3.9" fill="none" stroke="#e64a2c" stroke-width="2"/>
<circle cx="476.8" cy="421.8" r="3.9" fill="none" stroke="#e64a2c" stroke-width="2"/>
<circle cx="483.4" cy="423.6" r="3.9" fill="none" stroke="#e64a2c" stroke-width="2"/>
<circle cx="482.8" cy="429.6" r="3.9" fill="none" stroke="#e64a2c" stroke-width="2"/>
<circle cx="486" cy="434.3" r="3.9" fill="none" stroke="#e64a2c" stroke-width="2"/>
<circle cx="462" cy="422" r="3.9" fill="none" stroke="#e64a2c" stroke-width="2"/>
<circle cx="463.2" cy="428.5" r="3.9" fill="none" stroke="#e64a2c" stroke-width="2"/>
<circle cx="447.7" cy="430.7" r="3.9" fill="none" stroke="#e64a2c" stroke-width="2"/>
<circle cx="455.1" cy="431.2" r="3.9" fill="none" stroke="#e64a2c" stroke-width="2"/>
<circle cx="452.8" cy="434.2" r="3.9" fill="none" stroke="#e64a2c" stroke-width="2"/>
<circle cx="488" cy="442.8" r="3.9" fill="none" stroke="#e64a2c" stroke-width="2"/>
<circle cx="486.2" cy="446.4" r="3.9" fill="none" stroke="#e64a2c" stroke-width="2"/>
<circle cx="469.1" cy="443.3" r="3.9" fill="none" stroke="#e64a2c" stroke-width="2"/>
<circle cx="469.1" cy="449.8" r="3.9" fill="none" stroke="#e64a2c" stroke-width="2"/>
<circle cx="492.5" cy="453.5" r="3.9" fill="none" stroke="#e64a2c" stroke-width="2"/>
<circle cx="501.5" cy="450.5" r="3.9" fill="none" stroke="#e64a2c" stroke-width="2"/>
<circle cx="481" cy="454.8" r="3.9" fill="none" stroke="#e64a2c" stroke-width="2"/>
<circle cx="459.7" cy="456.2" r="3.9" fill="none" stroke="#e64a2c" stroke-width="2"/>
<circle cx="446.9" cy="462" r="3.9" fill="none" stroke="#e64a2c" stroke-width="2"/>
<circle cx="465.6" cy="461.7" r="3.9" fill="none" stroke="#e64a2c" stroke-width="2"/>
<circle cx="468.5" cy="462.6" r="3.9" fill="none" stroke="#e64a2c" stroke-width="2"/>
<circle cx="486.4" cy="457.2" r="3.9" fill="none" stroke="#e64a2c" stroke-width="2"/>
<circle cx="483.4" cy="462" r="3.9" fill="none" stroke="#e64a2c" stroke-width="2"/>
<circle cx="493.5" cy="461.2" r="3.9" fill="none" stroke="#e64a2c" stroke-width="2"/>
<circle cx="494.6" cy="468.1" r="3.9" fill="none" stroke="#e64a2c" stroke-width="2"/>
<circle cx="503.5" cy="466.6" r="3.9" fill="none" stroke="#e64a2c" stroke-width="2"/>
<circle cx="477.8" cy="472.2" r="3.9" fill="none" stroke="#e64a2c" stroke-width="2"/>
<circle cx="486.3" cy="475.1" r="3.9" fill="none" stroke="#e64a2c" stroke-width="2"/>
<circle cx="465.5" cy="479.3" r="3.9" fill="none" stroke="#e64a2c" stroke-width="2"/>
<circle cx="460.6" cy="484" r="3.9" fill="none" stroke="#e64a2c" stroke-width="2"/>
<circle cx="473.1" cy="481.9" r="3.9" fill="none" stroke="#e64a2c" stroke-width="2"/>
<circle cx="475.6" cy="477.6" r="3.9" fill="none" stroke="#e64a2c" stroke-width="2"/>
<circle cx="479.3" cy="485.4" r="3.9" fill="none" stroke="#e64a2c" stroke-width="2"/>
<circle cx="471.2" cy="487" r="3.9" fill="none" stroke="#e64a2c" stroke-width="2"/>
<circle cx="490" cy="481" r="3.9" fill="none" stroke="#e64a2c" stroke-width="2"/>
<circle cx="487.7" cy="487.4" r="3.9" fill="none" stroke="#e64a2c" stroke-width="2"/>
<circle cx="499.3" cy="481" r="3.9" fill="none" stroke="#e64a2c" stroke-width="2"/>
<circle cx="503" cy="486" r="3.9" fill="none" stroke="#e64a2c" stroke-width="2"/>
<circle cx="509.7" cy="484.1" r="3.9" fill="none" stroke="#e64a2c" stroke-width="2"/>
<circle cx="448.3" cy="494.1" r="3.9" fill="none" stroke="#e64a2c" stroke-width="2"/>
<circle cx="460.4" cy="492.4" r="3.9" fill="none" stroke="#e64a2c" stroke-width="2"/>
<circle cx="459" cy="495.6" r="3.9" fill="none" stroke="#e64a2c" stroke-width="2"/>
<circle cx="472.2" cy="495.4" r="3.9" fill="none" stroke="#e64a2c" stroke-width="2"/>
<circle cx="476.4" cy="496.2" r="3.9" fill="none" stroke="#e64a2c" stroke-width="2"/>
<circle cx="501.5" cy="496" r="3.9" fill="none" stroke="#e64a2c" stroke-width="2"/>
<circle cx="523.2" cy="405" r="3.9" fill="none" stroke="#e64a2c" stroke-width="2"/>
<circle cx="523.9" cy="409.7" r="3.9" fill="none" stroke="#e64a2c" stroke-width="2"/>
<circle cx="518.4" cy="417.5" r="3.9" fill="none" stroke="#e64a2c" stroke-width="2"/>
<circle cx="529.7" cy="425.2" r="3.9" fill="none" stroke="#e64a2c" stroke-width="2"/>
<circle cx="544.7" cy="427.1" r="3.9" fill="none" stroke="#e64a2c" stroke-width="2"/>
<circle cx="559.8" cy="445.9" r="3.9" fill="none" stroke="#e64a2c" stroke-width="2"/>
<circle cx="544.8" cy="459.6" r="3.9" fill="none" stroke="#e64a2c" stroke-width="2"/>
<circle cx="539.5" cy="472.3" r="3.9" fill="none" stroke="#e64a2c" stroke-width="2"/>
<circle cx="546" cy="476.6" r="3.9" fill="none" stroke="#e64a2c" stroke-width="2"/>
<circle cx="529.7" cy="478.6" r="3.9" fill="none" stroke="#e64a2c" stroke-width="2"/>
<circle cx="517.5" cy="492.3" r="3.9" fill="none" stroke="#e64a2c" stroke-width="2"/>
<circle cx="656" cy="387.8" r="3.9" fill="none" stroke="#e64a2c" stroke-width="2"/>
<circle cx="589.7" cy="398.5" r="3.9" fill="none" stroke="#e64a2c" stroke-width="2"/>
<circle cx="590.2" cy="438.9" r="3.9" fill="none" stroke="#e64a2c" stroke-width="2"/>
<circle cx="587.8" cy="441.8" r="3.9" fill="none" stroke="#e64a2c" stroke-width="2"/>
<circle cx="584.3" cy="471" r="3.9" fill="none" stroke="#e64a2c" stroke-width="2"/>
<circle cx="594.5" cy="306" r="47.4" fill="none" stroke="#808080" stroke-width="1.1" stroke-dasharray="2.4,2" clip-path="url(#cD)"/>
<rect x="540" y="276" width="108" height="78" fill="#fff" opacity="0"/>
<path d="M549,310.5 C560,307.5 575,306.5 590,305 C605,304 620,302 630,299.5 C635,298 640,296 641.5,294.5 L642.5,304.5 C638,306 634,308 630,310 C622,314 614,317 605,319 C595,321 585,322.5 570,323.5 C562,323.8 556,324 553,324.5 Z" fill="#f59a88"/>
<ellipse cx="565" cy="312.6" rx="7" ry="3.3" fill="#ec4a22" stroke="#8a2010" stroke-width="1" transform="rotate(-6 565 312.6)"/>
<ellipse cx="590.5" cy="313.3" rx="7.3" ry="5.3" fill="#ec4a22" stroke="#8a2010" stroke-width="1"/>
<ellipse cx="613" cy="312.3" rx="3.5" ry="2.2" fill="#ec4a22" stroke="#9a2a14" stroke-width="0.8" transform="rotate(-12 613 312.3)"/>
<path d="M544.5,312 C549,310.5 555,308.5 559.2,307.5 C562,306.5 563,303 561.5,299.5 C559.5,296 559,292 560.5,289 C562,287 566,286 568.8,287 C571,288 571.8,291 570.5,294.5 C569,298 566,301 565.8,304 C566,306.5 568,307 571,306.8 C577,306.3 583,306 587.3,305.6 C590,305 591.5,302 592,298 C592.5,293 592,288 593.8,284.5 C595.5,282 598,281.3 600.2,281.6 C603,282 605.5,284 606,287 C606.5,291 604.5,294.5 602,297.5 C600,300 598.5,302.5 599.5,305 C601,307 605,307.6 609.2,307.4 C612,307 614,305.5 613.7,303 C613,300 611.5,297 613,295 C614.5,293.5 617,293.5 618.8,294 C621,295.5 622,298.5 624,300.8 C626,301.5 629,300 632,298.5 C635,297 638,295.5 641.2,294.4" fill="none" stroke="#444" stroke-width="1.3"/>
<path d="M545.1,321.6 C547.5,322.8 549.5,323.8 551.5,323.5 C554,323 556,321 558,320.3 C560,319.5 562,318.5 563.5,318.8 C565.5,319.5 565.8,322 565.3,325 C564.8,329 564.5,332 566,334 C567.5,335.5 570,335.8 572.5,335 C575,333.8 575.5,331 575,327.5 C574.5,324.5 572.5,321.5 573,319.8 C574,318.8 576,318.8 578,319.5 C580.5,320.5 581.5,323 582,327 C582.5,331.5 582.2,336 583,340 C584,343 586,344.3 588.5,344 C591,343.5 592.5,341 592.4,337 C592.2,333.5 589.5,331 589,328.5 C589,326 590.5,324.5 592,324 C594.5,323.3 597,323 598.8,322.5 C600.5,321.8 602,321.3 602.8,320.9 C601,322.5 599,324 598,326 C597,329 598,331.5 600,333 C602,334.5 605.5,334.5 607.9,333 C610,331.5 610.5,329.5 610,326.5 C609.5,323.5 609,321 610.5,318.5 C612.5,316.5 615.5,315.5 618.1,315.1 C620.5,314.5 623,314.5 624.5,315.5 C626,317.5 626.2,320 627.7,321.5 C629.5,323 631.5,323 633,321.5 C635,319.5 635.5,316 635,313 C634.5,310 634.5,308 636,306.8 C638,305.5 640.5,304.8 642.5,304.2" fill="none" stroke="#444" stroke-width="1.3"/>
</svg>
</body></html>
